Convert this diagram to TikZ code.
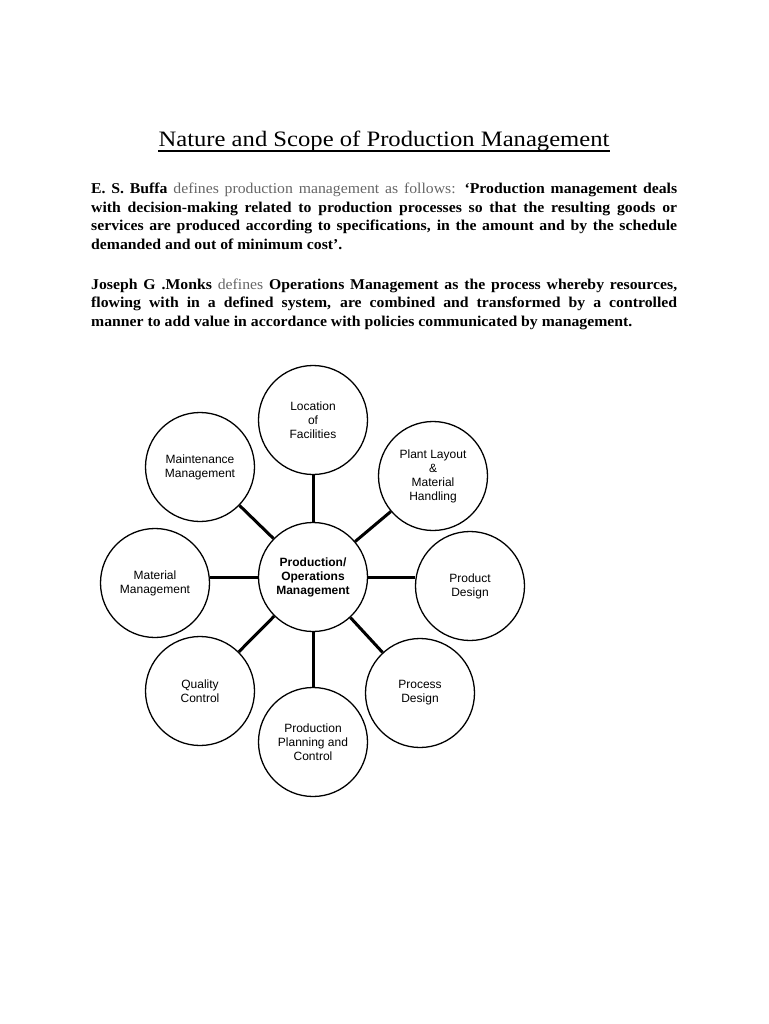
\documentclass[tikz,border=0pt]{standalone}
\usepackage{fontspec}
\usepackage{xcolor}
\setmainfont[FakeStretch=1.05]{Liberation Serif}
\newfontfamily\titlefont[FakeStretch=1.12]{Liberation Serif}
\newfontfamily\diagfont{Liberation Sans}
\definecolor{softtext}{gray}{0.4}

\begin{document}
\begin{tikzpicture}[x=1pt, y=-1pt,
    para/.style={anchor=base west, inner sep=0pt, text width=586pt, align=justify, font=\fontsize{15}{18.5}\selectfont},
    bubble/.style={circle, draw, line width=1.3pt, minimum size=109pt, inner sep=0pt, align=center, font=\diagfont\fontsize{12}{14}\selectfont},
    hub/.style={bubble, font=\diagfont\bfseries\fontsize{12}{14}\selectfont},
    link/.style={line width=3pt}]
    \useasboundingbox (0,0) rectangle (768,1024);
    \node[anchor=base, inner sep=0pt, font=\titlefont\fontsize{22}{26}\selectfont] (title) at (384,147) {Nature and Scope of Production Management};
    \draw[line width=1.1pt] ([yshift=-4pt]title.base west) -- ([yshift=-4pt]title.base east);
    \node[para] (buffa) at (91,194) {\textbf{E. S. Buffa} {\color{softtext}defines production management as follows:} \textbf{‘Production management deals\linebreak with decision-making related to production processes so that the resulting goods or\linebreak services are produced according to specifications, in the amount and by the schedule\linebreak demanded and out of minimum cost’.}};
    \node[para] (monks) at (91,289) {\textbf{Joseph G .Monks} {\color{softtext}defines} \textbf{Operations Management as the process whereby resources,\linebreak flowing with in a defined system, are combined and transformed by a controlled\linebreak manner to add value in accordance with policies communicated by management.}};
    \node[hub] (hub) at (313,577) {Production/\\Operations\\Management};
    \node[bubble] (loc) at (313,420) {Location\\of\\Facilities};
    \node[bubble] (maint) at (200,467) {Maintenance\\Management};
    \node[bubble] (plant) at (433,476) {Plant Layout\\\&\\Material\\Handling};
    \node[bubble] (mat) at (155,583) {Material\\Management};
    \node[bubble] (prod) at (470,586) {Product\\Design};
    \node[bubble] (qual) at (200,691) {Quality\\Control};
    \node[bubble] (proc) at (420,693) {Process\\Design};
    \node[bubble] (ppc) at (313,742) {Production\\Planning and\\Control};
    \draw[link] (hub) -- (loc);
    \draw[link] (hub) -- (maint);
    \draw[link] (hub) -- (plant);
    \draw[link] (hub.west) -- (hub.west -| mat.east);
    \draw[link] (hub.east) -- (hub.east -| prod.west);
    \draw[link] (hub) -- (qual);
    \draw[link] (hub) -- (proc);
    \draw[link] (hub) -- (ppc);
\end{tikzpicture}
\end{document}
